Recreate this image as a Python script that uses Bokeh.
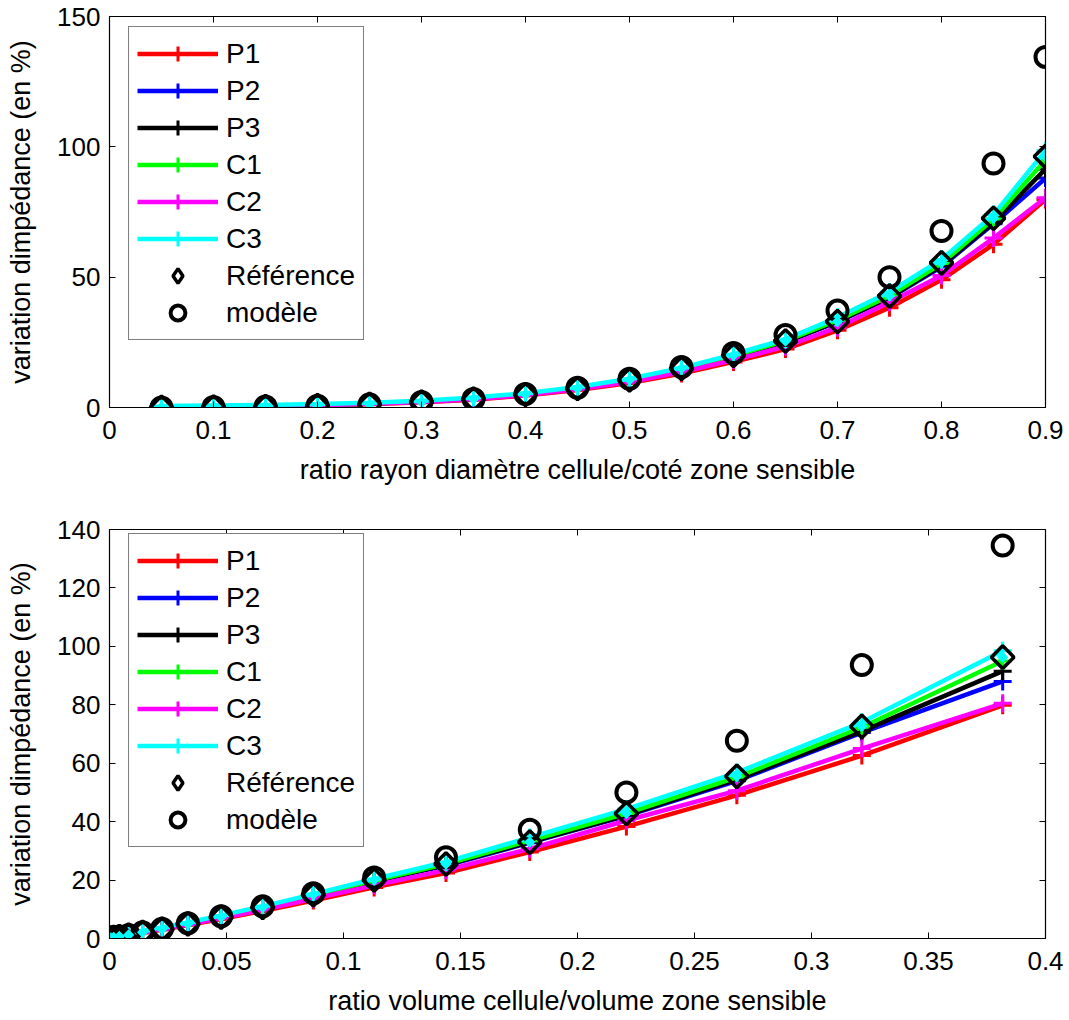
from bokeh.plotting import figure
from bokeh.models import (LinearAxis, FixedTicker, CustomJSTickFormatter, Legend, LegendItem,
                          CDSView, IndexFilter)
from bokeh.layouts import column
from bokeh.embed import file_html
from bokeh.resources import INLINE

# ---------------- data ----------------
ratio_rayon = [0.05, 0.10, 0.15, 0.20, 0.25, 0.30, 0.35, 0.40, 0.45, 0.50,
               0.55, 0.60, 0.65, 0.70, 0.75, 0.80, 0.85, 0.90]
ratio_volume = [0.0000654, 0.000524, 0.00177, 0.00419, 0.00818, 0.01414, 0.02245,
                0.03351, 0.04771, 0.06545, 0.08711, 0.1131, 0.1438, 0.1796,
                0.2209, 0.2681, 0.3215, 0.3817]

P1 = [0.1, 0.3, 0.5, 0.8, 1.2, 2.0, 3.0, 4.6, 6.7, 9.4, 13.0, 17.5, 22.4, 29.6, 38.3, 49.0, 62.6, 79.8]
P2 = [0.3, 0.5, 0.7, 1.0, 1.5, 2.3, 3.4, 5.1, 7.4, 10.4, 14.5, 19.5, 25.0, 32.8, 42.0, 54.0, 70.5, 88.0]
P3 = [0.3, 0.5, 0.7, 1.0, 1.5, 2.3, 3.5, 5.2, 7.5, 10.5, 14.6, 19.6, 25.2, 33.0, 42.2, 54.5, 71.0, 91.5]
C1 = [0.3, 0.5, 0.7, 1.0, 1.5, 2.3, 3.5, 5.2, 7.6, 10.6, 14.7, 19.8, 25.5, 33.5, 42.8, 55.2, 72.3, 95.0]
C2 = [0.2, 0.4, 0.6, 0.9, 1.4, 2.1, 3.2, 4.8, 7.0, 9.8, 13.6, 18.2, 23.4, 30.7, 40.4, 50.6, 65.0, 80.5]
C3 = [0.6, 0.8, 1.0, 1.3, 1.8, 2.6, 3.8, 5.5, 7.9, 11.0, 15.2, 20.4, 26.2, 34.6, 44.3, 56.8, 74.0, 98.5]
reference = [0.05, 0.2, 0.4, 0.7, 1.2, 2.1, 3.2, 5.0, 7.3, 10.6, 15.0, 20.0, 25.5, 33.0, 42.8, 55.5, 72.6, 96.3]
modele = [0.05, 0.2, 0.4, 0.7, 1.2, 2.1, 3.3, 5.2, 7.6, 11.0, 15.5, 20.9, 27.8, 37.2, 50.0, 67.7, 93.6, 134.5]

series_names = ["P1", "P2", "P3", "C1", "C2", "C3"]
series_values = [P1, P2, P3, C1, C2, C3]
series_colors = ["#ff0000", "#0000ff", "#000000", "#00ff00", "#ff00ff", "#00ffff"]

x_ticks_top = [0, 0.1, 0.2, 0.3, 0.4, 0.5, 0.6, 0.7, 0.8, 0.9]
y_ticks_top = [0, 50, 100, 150]
x_ticks_bottom = [0, 0.05, 0.1, 0.15, 0.2, 0.25, 0.3, 0.35, 0.4]
y_ticks_bottom = [0, 20, 40, 60, 80, 100, 120, 140]

FONT = "Liberation Sans"
TICK_FS = "26px"
LABEL_FS = "27px"
LEGEND_FS = "28px"
fmt = CustomJSTickFormatter(code="return String(Number(tick.toFixed(4)));")
blank_fmt = CustomJSTickFormatter(code="return '';")


def style_axis(ax, ticks, show_labels=True):
    ax.ticker = FixedTicker(ticks=ticks)
    ax.major_tick_in = 6
    ax.major_tick_out = 0
    ax.minor_tick_line_color = None
    ax.axis_line_color = "black"
    ax.major_tick_line_color = "black"
    ax.axis_line_width = 1.2
    if show_labels:
        ax.formatter = fmt
        ax.major_label_text_font = FONT
        ax.major_label_text_font_size = TICK_FS
        ax.major_label_text_color = "black"
        ax.axis_label_text_font = FONT
        ax.axis_label_text_font_size = LABEL_FS
        ax.axis_label_text_font_style = "normal"
        ax.axis_label_text_color = "black"
    else:
        ax.formatter = blank_fmt
        ax.major_label_text_font_size = "1px"
        ax.major_label_standoff = 0


def make_fig(xs, xr, yr, xticks, yticks, xlabel, height, mb_top, mb_bottom, legend_y):
    p = figure(width=1066, height=height, x_range=xr, y_range=yr,
               output_backend="svg", toolbar_location=None,
               min_border_left=109, min_border_right=21,
               min_border_top=mb_top, min_border_bottom=mb_bottom)
    p.grid.visible = False
    p.outline_line_color = "black"
    p.background_fill_color = "white"
    p.border_fill_color = "white"

    style_axis(p.xaxis[0], xticks)
    style_axis(p.yaxis[0], yticks)
    p.xaxis[0].axis_label = xlabel
    p.yaxis[0].axis_label = "variation dimpédance (en %)"
    p.xaxis[0].major_label_standoff = 13
    p.xaxis[0].axis_label_standoff = 13
    p.yaxis[0].major_label_standoff = 9
    p.yaxis[0].axis_label_standoff = 18

    top_ax = LinearAxis()
    style_axis(top_ax, xticks, show_labels=False)
    p.add_layout(top_ax, "above")
    right_ax = LinearAxis()
    style_axis(right_ax, yticks, show_labels=False)
    p.add_layout(right_ax, "right")

    items = []
    for name, vals, col in zip(series_names, series_values, series_colors):
        ln = p.line(xs, vals, line_color=col, line_width=4.5)
        sc = p.scatter(xs, vals, marker="cross", size=18, line_color=col, line_width=3)
        items.append(LegendItem(label=name, renderers=[ln, sc]))

    p.scatter(xs, reference, marker="square", angle=0.785398, size=16,
              fill_color=None, line_color="black", line_width=3.5)
    mod = p.scatter(xs, modele, marker="circle", size=20,
                    fill_color=None, line_color="black", line_width=4)
    # legend glyph for the reference (diamond outline); only the first point, tiny, hidden below
    ref_leg = p.scatter(xs, reference, marker="diamond", size=3, fill_color=None,
                        line_color="black", line_width=3.5,
                        view=CDSView(filter=IndexFilter(indices=[0])))
    p.scatter(xs, reference, marker="square", angle=0.785398, size=8,
              fill_color="#00ffff", line_color=None)
    items.append(LegendItem(label="Référence", renderers=[ref_leg]))
    items.append(LegendItem(label="modèle", renderers=[mod]))

    leg = Legend(items=items, location=(19, legend_y))
    leg.label_text_font = FONT
    leg.label_text_font_size = LEGEND_FS
    leg.label_text_color = "black"
    leg.glyph_width = 81
    leg.glyph_height = 37
    leg.label_height = 37
    leg.label_standoff = 8
    leg.spacing = 0
    leg.padding = 8
    leg.margin = 0
    leg.border_line_color = "black"
    leg.border_line_width = 1.2
    leg.background_fill_color = "white"
    leg.background_fill_alpha = 1
    p.add_layout(leg, "center")
    return p


p_top = make_fig(ratio_rayon, (0, 0.9), (0, 150), x_ticks_top, y_ticks_top,
                 "ratio rayon diamètre cellule/coté zone sensible",
                 height=500, mb_top=16, mb_bottom=93, legend_y=67)
p_bot = make_fig(ratio_volume, (0, 0.4), (0, 140), x_ticks_bottom, y_ticks_bottom,
                 "ratio volume cellule/volume zone sensible",
                 height=518, mb_top=29, mb_bottom=75, legend_y=91)

layout = column(p_top, p_bot, spacing=0)
open("out.html", "w").write(file_html(layout, INLINE))
